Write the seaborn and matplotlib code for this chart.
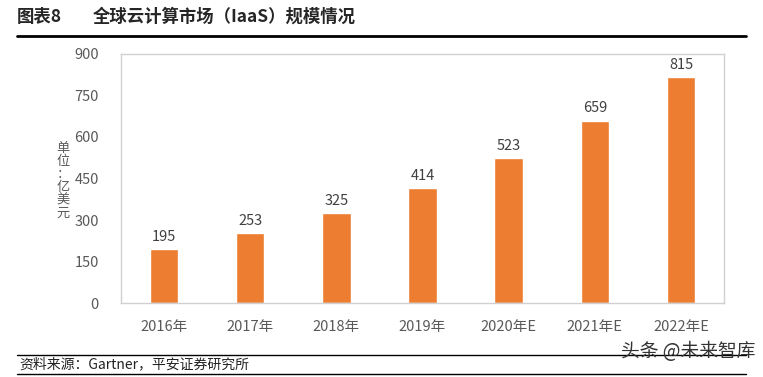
import pandas as pd
import matplotlib.pyplot as plt
import seaborn as sns

# data
years = ['2016年', '2017年', '2018年', '2019年', '2020年E', '2021年E', '2022年E']
values = [195, 253, 325, 414, 523, 659, 815]
yticks = [0, 150, 300, 450, 600, 750, 900]

df = pd.DataFrame({'year': years, 'value': values})

sns.set_style('white')
plt.rcParams['font.family'] = ['Noto Sans CJK SC', 'DejaVu Sans']

fig = plt.figure(figsize=(7.63, 3.77), dpi=100)
ax = fig.add_axes([0.1586, 0.196, 0.7903, 0.661])

sns.barplot(x='year', y='value', data=df, color='#ED7D31', width=0.33,
            saturation=1, ax=ax)

# value labels
for i, v in enumerate(values):
    ax.text(i, v + 20, str(v), ha='center', va='bottom', fontsize=10.5,
            color='#404040')

ax.set_ylim(0, 900)
ax.set_yticks(yticks)
ax.set_xlim(-0.5, len(years) - 0.5)
ax.set_xlabel('')
ax.set_ylabel('')
ax.tick_params(axis='both', labelsize=10.5, colors='#595959', length=0, pad=12)
ax.tick_params(axis='y', direction='in', length=4, color='#BFBFBF', pad=16)
for s in ax.spines.values():
    s.set_color('#D0D0D0')
    s.set_linewidth(1)

# stacked vertical unit label
fig.text(0.083, 0.52, '单\n位\n：\n亿\n美\n元', ha='center', va='center',
         fontsize=9.5, color='#595959', linespacing=1.0)

# header
fig.text(0.022, 0.955, '图表8', fontsize=12.5, fontweight='bold', va='center')
fig.text(0.122, 0.955, '全球云计算市场（IaaS）规模情况', fontsize=12.5,
         fontweight='bold', va='center')
fig.add_artist(plt.Line2D([0.022, 0.978], [0.905, 0.905], color='black', lw=2))

# footer
fig.add_artist(plt.Line2D([0.022, 0.978], [0.058, 0.058], color='black', lw=1))
fig.add_artist(plt.Line2D([0.022, 0.978], [0.008, 0.008], color='black', lw=1))
fig.text(0.025, 0.033, '资料来源：Gartner，平安证券研究所', fontsize=10,
         style='italic', va='center', color='#222222')
fig.text(0.99, 0.067, '头条 @未来智库', fontsize=13.5, ha='right', va='center',
         color='#333333')

fig.savefig('out.png', dpi=100)
